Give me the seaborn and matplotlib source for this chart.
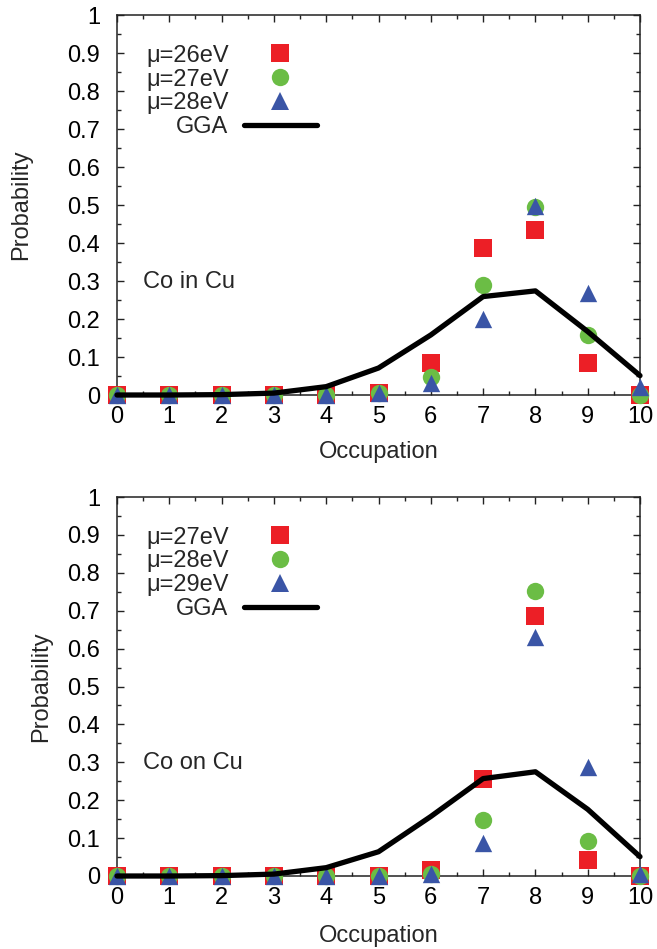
import matplotlib
matplotlib.use("Agg")
import matplotlib.pyplot as plt
import numpy as np
import pandas as pd
import seaborn as sns
from matplotlib.lines import Line2D
from matplotlib.ticker import MultipleLocator, FuncFormatter

# Occupation numbers on the x axis
occupation = list(range(11))

# Co in Cu: probabilities for three interaction strengths and the GGA curve
in_mu26 = [0, 0, 0, 0, 0, 0.005, 0.085, 0.387, 0.434, 0.085, 0.0]
in_mu27 = [0, 0, 0, 0, 0, 0.005, 0.048, 0.289, 0.495, 0.158, 0.0]
in_mu28 = [0, 0, 0, 0, 0, 0.005, 0.032, 0.200, 0.497, 0.269, 0.02]
in_gga = [0, 0, 0.001, 0.005, 0.022, 0.071, 0.158, 0.259, 0.274, 0.167, 0.051]
in_labels = ["\u03bc=26eV", "\u03bc=27eV", "\u03bc=28eV", "GGA"]

# Co on Cu
on_mu27 = [0, 0, 0, 0, 0, 0, 0.016, 0.257, 0.686, 0.042, 0.0]
on_mu28 = [0, 0, 0, 0, 0, 0, 0.005, 0.148, 0.753, 0.092, 0.0]
on_mu29 = [0, 0, 0, 0, 0, 0, 0.005, 0.088, 0.630, 0.287, 0.005]
on_gga = [0, 0, 0.001, 0.005, 0.022, 0.064, 0.157, 0.257, 0.275, 0.176, 0.051]
on_labels = ["\u03bc=27eV", "\u03bc=28eV", "\u03bc=29eV", "GGA"]

panel_titles = ["Co in Cu", "Co on Cu"]

RED = "#ec1f26"
GREEN = "#6bbd45"
BLUE = "#3a55a6"
MARKERS = ["s", "o", "^"]
COLORS = [RED, GREEN, BLUE]
MS = 12.5
FS = 17

sns.set_theme(style="ticks")
plt.rcParams["font.family"] = ["Liberation Sans", "DejaVu Sans"]
plt.rcParams["font.size"] = FS

fig = plt.figure(figsize=(6.57, 9.49), dpi=100)
W, H = 657, 949


def axes_box(left, top, right, bottom):
    return [left / W, 1 - bottom / H, (right - left) / W, (bottom - top) / H]


ax_top = fig.add_axes(axes_box(117, 15, 640, 395))
ax_bot = fig.add_axes(axes_box(117, 497, 640, 876))


def fmt_prob(v, pos):
    if abs(v) < 1e-9:
        return "0"
    if abs(v - 1) < 1e-9:
        return "1"
    return f"{v:.1f}"


def draw_panel(ax, series, gga, labels, title, ylab_x, xlab_y):
    for vals, mk, col in zip(series, MARKERS, COLORS):
        df = pd.DataFrame({"Occupation": occupation, "Probability": vals})
        sns.scatterplot(data=df, x="Occupation", y="Probability", ax=ax,
                        marker=mk, color=col, s=MS ** 2, linewidth=0,
                        clip_on=False, zorder=3)
    gdf = pd.DataFrame({"Occupation": occupation, "Probability": gga})
    sns.lineplot(data=gdf, x="Occupation", y="Probability", ax=ax,
                 color="black", linewidth=3.8, clip_on=False, zorder=4)

    ax.set_xlim(0, 10)
    ax.set_ylim(0, 1)
    ax.xaxis.set_major_locator(MultipleLocator(1))
    ax.xaxis.set_minor_locator(MultipleLocator(0.5))
    ax.yaxis.set_major_locator(MultipleLocator(0.1))
    ax.yaxis.set_minor_locator(MultipleLocator(0.05))
    ax.yaxis.set_major_formatter(FuncFormatter(fmt_prob))
    ax.tick_params(which="both", direction="in", top=True, right=True,
                   labelsize=FS, colors="#222222", labelcolor="black")
    ax.tick_params(which="major", length=5, width=1)
    ax.tick_params(which="minor", length=2.8, width=1)
    ax.tick_params(axis="x", which="major", pad=8)
    ax.tick_params(axis="y", which="major", pad=12)
    for sp in ax.spines.values():
        sp.set_visible(True)
        sp.set_linewidth(1.1)
        sp.set_color("#222222")

    ax.set_xlabel("Occupation", fontsize=FS)
    ax.set_ylabel("Probability", fontsize=FS)
    ax.xaxis.set_label_coords(0.5, xlab_y)
    ax.yaxis.set_label_coords(ylab_x, 0.5)

    ax.text(0.05, 0.297, title, transform=ax.transAxes, fontsize=FS,
            ha="left", va="center")

    handles = [Line2D([], [], linestyle="none", marker=mk, color=col,
                      markersize=MS, markeredgewidth=0)
               for mk, col in zip(MARKERS, COLORS)]
    handles.append(Line2D([], [], color="black", linewidth=3.8))
    ax.legend(handles, labels, loc="upper right", bbox_to_anchor=(0.383, 0.922),
              frameon=False, markerfirst=False, fontsize=FS, borderpad=0,
              borderaxespad=0, handlelength=3.12, handletextpad=0.64,
              labelspacing=0.08)


draw_panel(ax_top, [in_mu26, in_mu27, in_mu28], in_gga, in_labels,
           panel_titles[0], -0.163, -0.12)
draw_panel(ax_bot, [on_mu27, on_mu28, on_mu29], on_gga, on_labels,
           panel_titles[1], -0.125, -0.128)

fig.savefig("out.png", dpi=100)
